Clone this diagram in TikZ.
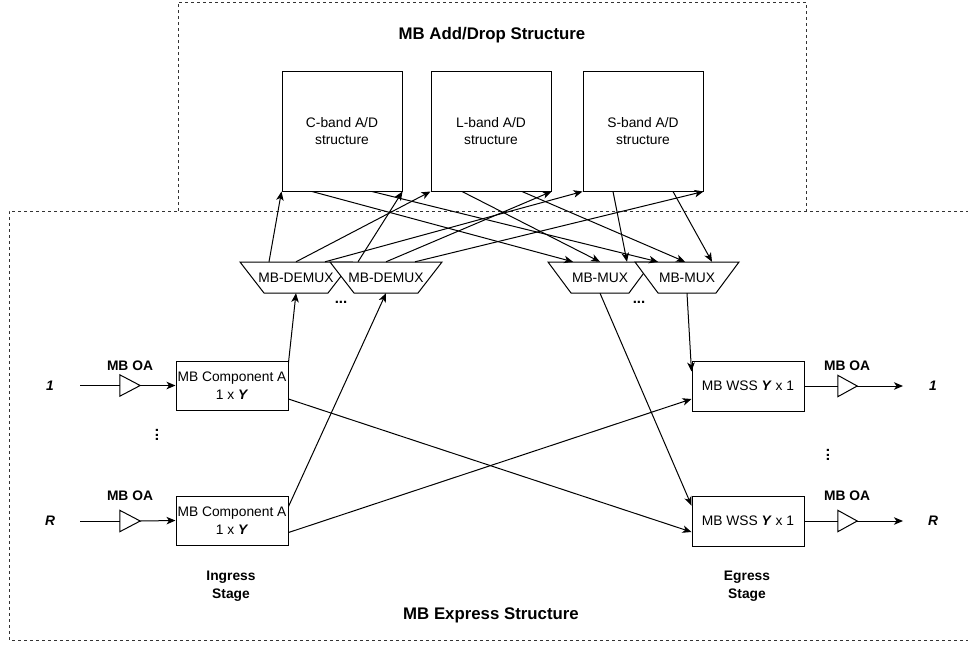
\documentclass[tikz,border=0pt]{standalone}
\usepackage{fontspec}
\setmainfont{Liberation Sans}
\usetikzlibrary{arrows.meta}

\newcommand\txt{\fontsize{13.8}{17.5}\selectfont}
\newcommand\ttl{\fontsize{16.8}{20}\selectfont\bfseries}

\tikzset{
  frame/.style={line width=1pt, draw=black!80, dash pattern=on 3pt off 3pt},
  blk/.style={draw, line width=1pt, fill=white, align=center, inner sep=0pt, font=\txt},
  trapline/.style={draw, line width=1pt, fill=white, line join=miter},
  traptext/.style={inner sep=0pt, minimum height=31pt, font=\txt},
  ampbox/.style={minimum width=20pt, minimum height=21pt, inner sep=0pt},
  amp/.style={draw, line width=1pt, fill=white},
  lbl/.style={font=\txt\bfseries, align=center, inner sep=0pt},
  dots/.style={font=\fontsize{15}{15}\selectfont\bfseries, inner sep=0pt},
  wire/.style={line width=1pt},
  arr/.style={line width=1pt, -{Stealth[length=9pt,width=7.5pt,inset=2.5pt]}}
}

\begin{document}
\begin{tikzpicture}[x=1pt,y=-1pt]
\useasboundingbox (0,0) rectangle (968,646);

% outer dashed frames
\draw[frame] (178,211) -- (178,2) -- (806,2) -- (806,211);
\draw[frame] (975,211) -- (9,211) -- (9,640) -- (975,640);

\node[font=\ttl] (adtitle) at (492,35) {MB Add/Drop Structure};
\node[font=\ttl] (extitle) at (491,615) {MB Express Structure};

% add/drop blocks
\node[blk, minimum width=120pt, minimum height=120pt] (cb) at (342,131) {C-band A/D\\structure};
\node[blk, minimum width=120pt, minimum height=120pt] (lb) at (491,131) {L-band A/D\\structure};
\node[blk, minimum width=120pt, minimum height=120pt] (sb) at (643,131) {S-band A/D\\structure};

% demultiplexers and multiplexers (wide side on top)
\coordinate (dm1c) at (296,277.5);
\coordinate (dm2c) at (386,277.5);
\coordinate (mx1c) at (600,277.5);
\coordinate (mx2c) at (687,277.5);

\path[trapline] ([shift={(-56,-15.5)}]dm1c) -- ([shift={(56,-15.5)}]dm1c)
  -- ([shift={(32,15.5)}]dm1c) -- ([shift={(-32,15.5)}]dm1c) -- cycle;
\node[traptext, minimum width=112pt] (dm1) at (dm1c) {MB-DEMUX};
\path[trapline] ([shift={(-56,-15.5)}]dm2c) -- ([shift={(56,-15.5)}]dm2c)
  -- ([shift={(32,15.5)}]dm2c) -- ([shift={(-32,15.5)}]dm2c) -- cycle;
\node[traptext, minimum width=112pt] (dm2) at (dm2c) {MB-DEMUX};
\path[trapline] ([shift={(-52,-15.5)}]mx1c) -- ([shift={(52,-15.5)}]mx1c)
  -- ([shift={(29,15.5)}]mx1c) -- ([shift={(-29,15.5)}]mx1c) -- cycle;
\node[traptext, minimum width=104pt] (mx1) at (mx1c) {MB-MUX};
\path[trapline] ([shift={(-52,-15.5)}]mx2c) -- ([shift={(52,-15.5)}]mx2c)
  -- ([shift={(29,15.5)}]mx2c) -- ([shift={(-29,15.5)}]mx2c) -- cycle;
\node[traptext, minimum width=104pt] (mx2) at (mx2c) {MB-MUX};
\node[dots] (hd1) at (341,302) {...};
\node[dots] (hd2) at (639,302) {...};

% ingress stage
\node[blk, minimum width=112pt, minimum height=49pt] (ca1) at (232,385.5) {MB Component A\\1 x \textbf{\textit{Y}}};
\node[blk, minimum width=112pt, minimum height=49pt] (caR) at (232,520.5) {MB Component A\\1 x \textbf{\textit{Y}}};
\node[ampbox] (oa1) at (130,385.5) {};
\node[ampbox] (oaR) at (130,521) {};
\draw[amp] (oa1.north west) -- (oa1.east) -- (oa1.south west) -- cycle;
\draw[amp] (oaR.north west) -- (oaR.east) -- (oaR.south west) -- cycle;
\node[lbl] (oal1) at (130,366) {MB OA};
\node[lbl] (oalR) at (130,496) {MB OA};
\node[lbl, font=\txt\bfseries\itshape] (in1l) at (50,386) {1};
\node[lbl, font=\txt\bfseries\itshape] (inRl) at (50,521) {R};
\coordinate (in1) at (80,385.5);
\coordinate (inR) at (80,521);
\node[dots, rotate=90] (vd1) at (157,435) {...};
\node[lbl] (ing) at (231,586) {Ingress\\Stage};

% egress stage
\node[blk, minimum width=112pt, minimum height=50pt] (ws1) at (748,386) {MB WSS \textbf{\textit{Y}} x 1};
\node[blk, minimum width=112pt, minimum height=50pt] (wsR) at (748,521) {MB WSS \textbf{\textit{Y}} x 1};
\node[ampbox, minimum width=19pt] (ob1) at (847.5,386) {};
\node[ampbox, minimum width=19pt] (obR) at (847.5,521) {};
\draw[amp] (ob1.north west) -- (ob1.east) -- (ob1.south west) -- cycle;
\draw[amp] (obR.north west) -- (obR.east) -- (obR.south west) -- cycle;
\node[lbl] (obl1) at (847,366) {MB OA};
\node[lbl] (oblR) at (847,496) {MB OA};
\node[lbl, font=\txt\bfseries\itshape] (out1l) at (933,386) {1};
\node[lbl, font=\txt\bfseries\itshape] (outRl) at (933,521) {R};
\coordinate (out1) at (903,386);
\coordinate (outR) at (903,521);
\node[dots, rotate=90] (vd2) at (828,455) {...};
\node[lbl] (egr) at (747,586) {Egress\\Stage};

% amplifier chains
\draw[wire] (in1) -- (oa1.west);
\draw[arr] (oa1.east) -- (ca1.west);
\draw[wire] (inR) -- (oaR.west);
\draw[arr] (oaR.east) -- (caR.west);
\draw[wire] (ws1.east) -- (ob1.west);
\draw[arr] (ob1.east) -- (out1);
\draw[wire] (wsR.east) -- (obR.west);
\draw[arr] (obR.east) -- (outR);

% demux to add/drop blocks
\draw[arr] ([xshift=-27pt]dm1.north) -- (cb.south west);
\draw[arr] (dm1.north) -- (lb.south west);
\draw[arr] ([xshift=29pt]dm1.north) -- (sb.south west);
\draw[arr] ([xshift=-28pt]dm2.north) -- (cb.south east);
\draw[arr] (dm2.north) -- (lb.south east);
\draw[arr] ([xshift=29pt]dm2.north) -- (sb.south east);

% add/drop blocks to mux
\draw[arr] ([xshift=-30pt]cb.south) -- ([xshift=-27pt]mx1.north);
\draw[arr] ([xshift=30pt]cb.south) -- ([xshift=-29pt]mx2.north);
\draw[arr] ([xshift=-29pt]lb.south) -- (mx1.north);
\draw[arr] ([xshift=31pt]lb.south) -- ([xshift=-2pt]mx2.north);
\draw[arr] ([xshift=-30pt]sb.south) -- ([xshift=27pt]mx1.north);
\draw[arr] ([xshift=30pt]sb.south) -- ([xshift=25pt]mx2.north);

% ingress to demux
\draw[arr] ([yshift=-2pt]ca1.north east) -- (dm1.south);
\draw[arr] ([yshift=-11pt]caR.north east) -- (dm2.south);

% express crossings
\draw[arr] ([yshift=-13.5pt]ca1.east) -- ([yshift=-11pt]wsR.west);
\draw[arr] ([yshift=-12pt]caR.east) -- ([yshift=-13pt]ws1.west);

% mux to egress
\draw[arr] (mx1.south) -- ([yshift=-10pt]wsR.north west);
\draw[arr] (mx2.south) -- ([yshift=-11pt]ws1.north west);
\end{tikzpicture}
\end{document}
